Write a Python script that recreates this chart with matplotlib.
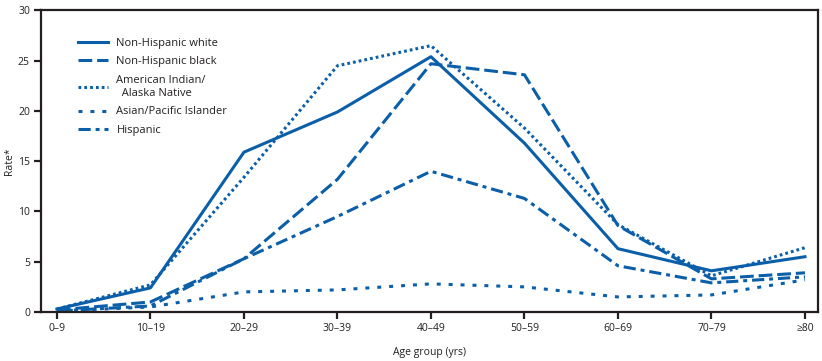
import matplotlib
matplotlib.use("Agg")
from matplotlib import pyplot as plt

age_groups = ["0\u20139", "10\u201319", "20\u201329", "30\u201339", "40\u201349",
              "50\u201359", "60\u201369", "70\u201379", "\u226580"]

white = [0.3, 2.4, 15.9, 19.9, 25.4, 16.8, 6.3, 4.1, 5.5]
black = [0.2, 1.0, 5.3, 13.2, 24.7, 23.6, 8.6, 3.3, 3.9]
aian = [0.3, 2.7, 13.4, 24.5, 26.5, 18.3, 8.7, 3.6, 6.4]
asian = [0.1, 0.5, 2.0, 2.2, 2.8, 2.5, 1.5, 1.7, 3.2]
hispanic = [0.1, 0.6, 5.3, 9.5, 14.0, 11.3, 4.6, 2.9, 3.5]

labels = ["Non-Hispanic white", "Non-Hispanic black",
          "American Indian/\n  Alaska Native", "Asian/Pacific Islander", "Hispanic"]

color = "#0b5ea8"
plt.rcParams["font.family"] = ["Open Sans", "DejaVu Sans"]

fig = plt.figure(figsize=(8.22, 3.61), dpi=100)
ax = fig.add_axes([0.0499, 0.1357, 0.9453, 0.8353])

x = range(len(age_groups))
lw = 2.2
ax.plot(x, white, color=color, lw=lw, ls="-", label=labels[0])
ax.plot(x, black, color=color, lw=lw, ls=(0, (4.5, 1.6)), label=labels[1])
ax.plot(x, aian, color=color, lw=lw, ls=(0, (0.9, 1.0)), label=labels[2])
ax.plot(x, asian, color=color, lw=lw, ls=(0, (1.3, 2.6)), label=labels[3])
ax.plot(x, hispanic, color=color, lw=lw, ls=(0, (4.0, 1.6, 1.3, 1.6)), label=labels[4])

ax.set_xlim(-0.17, 8.14)
ax.set_ylim(0, 30)
ax.set_xticks(list(x))
ax.set_xticklabels(age_groups)
ax.set_yticks([0, 5, 10, 15, 20, 25, 30])

for s in ax.spines.values():
    s.set_linewidth(1.6)
    s.set_color("#231f20")
ax.tick_params(direction="out", length=5, width=1.6, color="#231f20",
               labelsize=7.5, labelcolor="#231f20", pad=3)

ax.set_xlabel("Age group (yrs)", fontsize=7.5, color="#231f20", labelpad=9)
ax.set_ylabel("Rate*", fontsize=7.5, color="#231f20", labelpad=2)

leg = ax.legend(loc="upper left", bbox_to_anchor=(0.042, 0.925), frameon=False,
                fontsize=8, handlelength=2.7, handletextpad=0.75,
                labelspacing=0.7, borderaxespad=0)
for t in leg.get_texts():
    t.set_color("#231f20")

fig.savefig("out.png", dpi=100)
